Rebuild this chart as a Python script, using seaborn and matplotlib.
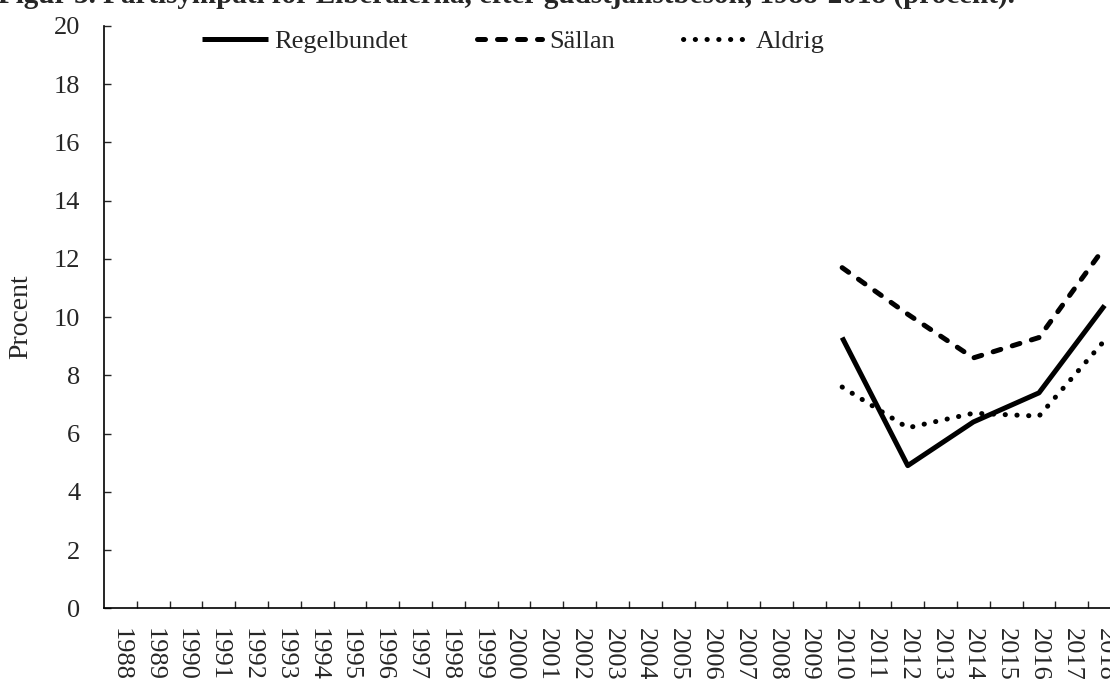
import pandas as pd
import matplotlib.pyplot as plt
import seaborn as sns

# data
years = list(range(1988, 2019))
survey_years = [2010, 2012, 2014, 2016, 2018]
regelbundet = [9.3, 4.9, 6.4, 7.4, 10.4]
sallan = [11.7, 10.1, 8.6, 9.3, 12.4]
aldrig = [7.6, 6.2, 6.7, 6.6, 9.2]

series = {"Regelbundet": regelbundet, "Sällan": sallan, "Aldrig": aldrig}
dashes = {"Regelbundet": "", "Sällan": (1.6, 2.4), "Aldrig": (0.05, 2.3)}

sns.set_theme(style="white")
plt.rcParams["font.family"] = ["Liberation Serif", "DejaVu Serif"]

W, H = 1110, 679
fig = plt.figure(figsize=(W / 100, H / 100), dpi=100)
ax = fig.add_axes([104 / W, (H - 608.3) / H, 1017 / W, (608.3 - 26) / H])

for name, vals in series.items():
    df = pd.DataFrame({"year": survey_years, "value": vals})
    line_kw = dict(color="black", lw=3.6, label=name,
                   solid_capstyle="butt", dash_capstyle="round")
    sns.lineplot(data=df, x="year", y="value", ax=ax, **line_kw)
    if dashes[name]:
        ax.lines[-1].set_dashes(dashes[name])

ax.set_xlim(years[0] - 0.5, years[-1] + 0.5)
ax.set_ylim(0, 20)
ax.set_yticks(range(0, 21, 2))
ax.set_xticks(years)
ax.set_xticklabels([str(y) for y in years], rotation=270)
ax.set_xticks([y + 0.5 for y in years[:-1]], minor=True)

ax.tick_params(axis="x", which="major", length=0, pad=14, labelsize=19)
ax.tick_params(axis="x", which="minor", direction="in", length=5, width=1, bottom=True)
ax.tick_params(axis="y", direction="in", length=5, width=1, left=True, pad=17, labelsize=19)
for lbl in ax.get_xticklabels():
    lbl.set_verticalalignment("top")

sns.despine(ax=ax)
for s in ("left", "bottom"):
    ax.spines[s].set_color("black")
    ax.spines[s].set_linewidth(1.2)

ax.set_xlabel("")
ax.set_ylabel("Procent", fontsize=20)
ax.yaxis.set_label_coords(-0.0698, 0.5)

leg = ax.legend(loc="center left", bbox_to_anchor=(201.7 / W, (H - 41.7) / H),
                bbox_transform=fig.transFigure, ncol=3, frameon=False,
                fontsize=19, handlelength=2.5, handletextpad=0.25,
                columnspacing=2.6, borderpad=0, borderaxespad=0)

fig.text(1015 / W, (H - 3) / H,
         "Figur 3. Partisympati för Liberalerna, efter gudstjänstbesök, 1988-2018 (procent).",
         ha="right", va="baseline", fontsize=21, fontweight="bold")

fig.savefig("out.png", dpi=100)
